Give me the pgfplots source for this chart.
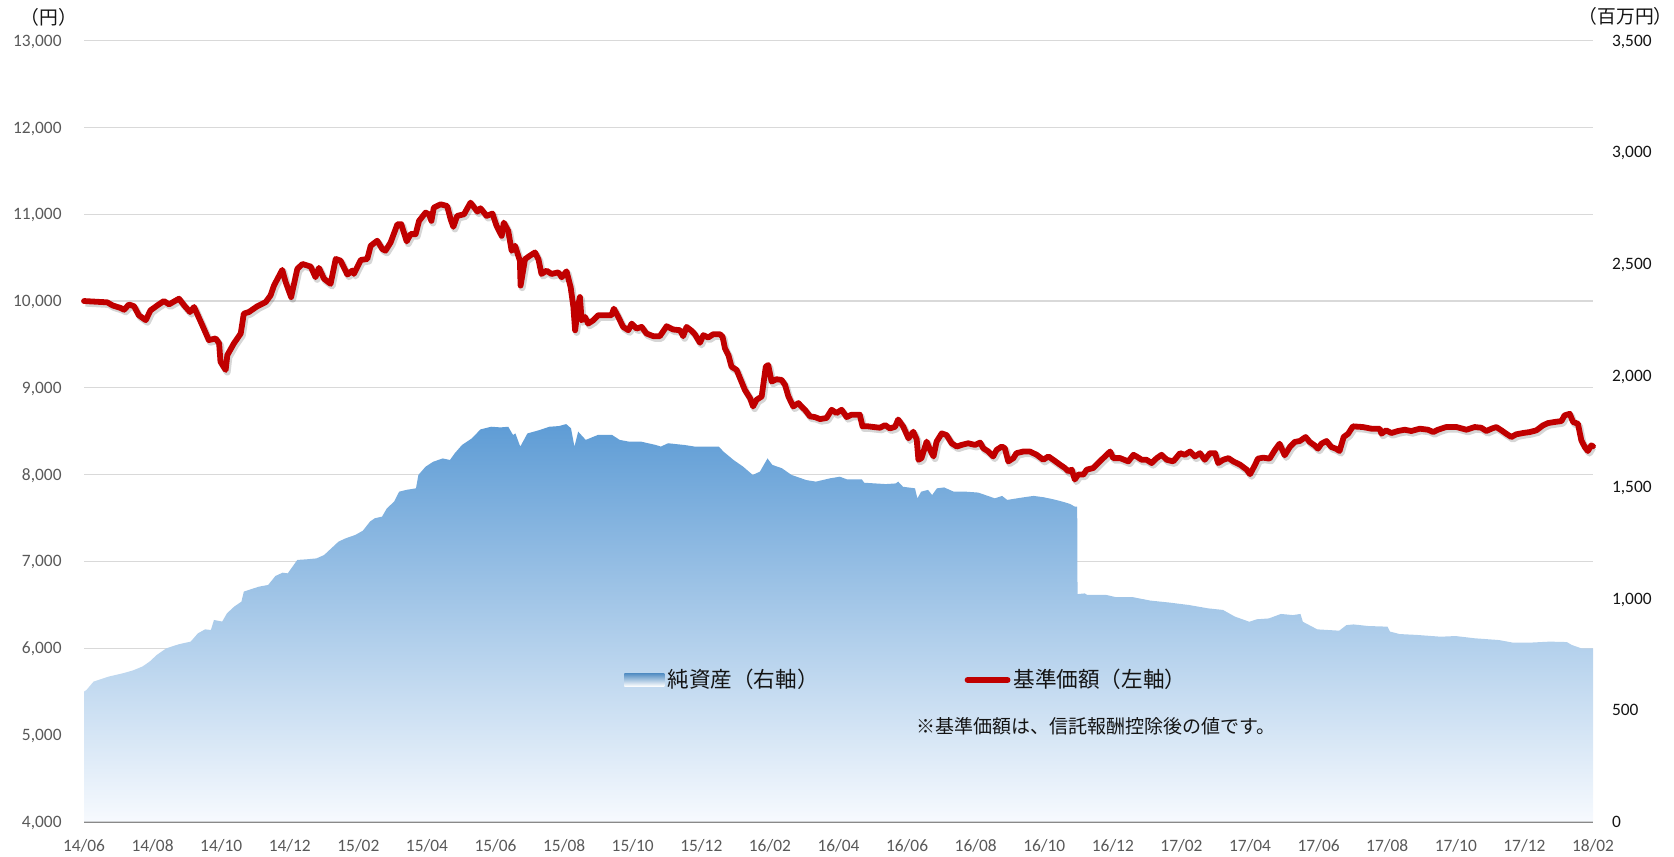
\documentclass[border=0pt]{standalone}
\usepackage{pgfplots}
\pgfplotsset{compat=1.18}
\usepackage{pgfplotstable}
\usepackage{fontspec}
\setmainfont{Carlito}
\newfontfamily\cjk{Noto Sans CJK JP}
\definecolor{redline}{RGB}{192,0,0}
\definecolor{gridgray}{RGB}{217,217,217}
\definecolor{axisgray}{RGB}{137,137,137}
\definecolor{tickgray}{RGB}{89,89,89}
\definecolor{areatop}{RGB}{94,156,213}
\definecolor{areamid}{RGB}{185,211,238}
\definecolor{areabot}{RGB}{247,250,254}
\definecolor{txt}{RGB}{20,20,20}

\pgfplotstableread{
m v
0.00 10000
0.68 9985
0.83 9950
1.07 9920
1.17 9900
1.31 9960
1.46 9940
1.60 9836
1.80 9780
1.94 9893
2.14 9950
2.33 10000
2.48 9962
2.77 10027
2.92 9950
3.09 9874
3.21 9931
3.45 9721
3.64 9550
3.84 9569
3.94 9511
3.98 9301
4.13 9206
4.18 9378
4.37 9511
4.57 9626
4.66 9855
4.81 9874
5.05 9939
5.30 9989
5.44 10065
5.54 10179
5.78 10359
5.88 10218
6.04 10046
6.22 10370
6.37 10427
6.61 10397
6.75 10275
6.85 10382
7.00 10256
7.19 10198
7.34 10485
7.48 10466
7.68 10305
7.82 10351
7.87 10313
8.07 10473
8.26 10485
8.36 10637
8.55 10695
8.70 10599
8.79 10580
8.94 10675
9.14 10886
9.25 10886
9.41 10687
9.52 10771
9.67 10771
9.77 10924
9.96 11019
10.06 11000
10.13 10924
10.20 11076
10.40 11115
10.59 11095
10.69 10943
10.77 10855
10.88 10981
11.08 11000
11.27 11134
11.47 11031
11.56 11069
11.74 10981
11.91 11008
12.03 10866
12.18 10751
12.24 10904
12.37 10808
12.47 10579
12.57 10637
12.71 10464
12.73 10178
12.86 10483
13.00 10522
13.15 10560
13.25 10483
13.34 10312
13.49 10350
13.63 10312
13.83 10331
13.93 10274
14.07 10343
14.19 10159
14.27 9931
14.32 9663
14.41 9950
14.46 10046
14.51 9778
14.61 9816
14.70 9740
14.85 9778
14.99 9836
15.19 9836
15.38 9836
15.45 9912
15.58 9816
15.72 9702
15.87 9664
15.97 9740
16.11 9683
16.26 9702
16.40 9626
16.60 9595
16.79 9595
16.99 9710
17.18 9672
17.38 9664
17.47 9595
17.57 9702
17.72 9656
17.81 9618
17.96 9519
18.06 9607
18.20 9580
18.35 9618
18.54 9618
18.62 9588
18.69 9454
18.79 9377
18.88 9244
19.03 9206
19.13 9110
19.27 8976
19.42 8881
19.51 8785
19.61 8862
19.76 8900
19.88 9244
19.95 9263
20.05 9072
20.19 9099
20.34 9091
20.44 9034
20.54 8900
20.68 8785
20.83 8824
20.92 8785
21.02 8747
21.17 8671
21.31 8663
21.46 8640
21.65 8652
21.80 8747
21.94 8709
22.09 8747
22.24 8663
22.38 8690
22.62 8690
22.70 8556
22.87 8556
23.01 8549
23.21 8540
23.36 8570
23.50 8532
23.65 8551
23.74 8635
23.89 8551
24.04 8418
24.18 8494
24.28 8407
24.33 8171
24.42 8190
24.57 8380
24.67 8285
24.77 8209
24.86 8380
25.01 8475
25.15 8456
25.30 8361
25.45 8323
25.59 8342
25.78 8361
25.98 8342
26.13 8369
26.22 8304
26.37 8266
26.51 8209
26.61 8285
26.76 8323
26.85 8304
26.95 8152
27.10 8190
27.19 8247
27.39 8266
27.58 8266
27.78 8228
27.97 8171
28.12 8209
28.26 8171
28.46 8114
28.60 8076
28.70 8038
28.80 8057
28.89 7943
28.99 8000
29.14 8000
29.24 8057
29.43 8076
29.62 8152
29.82 8228
29.92 8266
30.01 8190
30.21 8190
30.45 8152
30.60 8228
30.69 8209
30.84 8171
30.98 8171
31.13 8133
31.28 8190
31.42 8228
31.57 8171
31.76 8152
31.96 8247
32.10 8228
32.25 8266
32.39 8209
32.54 8247
32.68 8171
32.83 8247
32.98 8247
33.07 8133
33.22 8171
33.37 8190
33.51 8152
33.71 8114
33.90 8057
34.00 8005
34.14 8107
34.23 8184
34.38 8195
34.57 8184
34.72 8280
34.86 8356
35.01 8222
35.16 8318
35.30 8376
35.45 8387
35.62 8433
35.74 8376
35.88 8337
35.98 8299
36.08 8356
36.23 8387
36.37 8318
36.50 8299
36.61 8272
36.73 8433
36.86 8471
37.00 8556
37.29 8548
37.54 8529
37.78 8529
37.83 8471
37.97 8510
38.12 8479
38.31 8502
38.51 8517
38.70 8502
38.95 8529
39.19 8517
39.34 8490
39.48 8517
39.72 8548
40.02 8548
40.31 8517
40.55 8548
40.74 8540
40.89 8502
41.04 8529
41.18 8548
41.33 8510
41.47 8471
41.62 8433
41.76 8464
41.96 8479
42.15 8490
42.35 8510
42.54 8567
42.69 8594
42.88 8606
43.08 8617
43.17 8682
43.32 8701
43.42 8606
43.56 8586
43.66 8395
43.76 8318
43.85 8272
43.95 8337
44.00 8326
}\pricetable

\pgfplotstableread{
m v
0.00 583
0.07 590
0.28 628
0.71 650
1.13 665
1.41 677
1.70 695
1.91 717
2.12 747
2.40 777
2.76 795
3.11 807
3.32 844
3.53 862
3.70 859
3.79 904
4.03 897
4.17 934
4.38 964
4.59 986
4.66 1031
5.09 1053
5.37 1061
5.58 1101
5.79 1116
5.94 1113
6.22 1173
6.50 1176
6.78 1180
7.00 1195
7.21 1225
7.42 1255
7.63 1270
7.91 1285
8.13 1304
8.34 1345
8.48 1360
8.69 1367
8.83 1404
9.04 1434
9.19 1479
9.40 1487
9.68 1494
9.75 1554
9.96 1591
10.18 1613
10.46 1628
10.67 1621
10.81 1651
11.02 1688
11.31 1718
11.56 1758
11.87 1770
12.15 1767
12.37 1770
12.51 1733
12.58 1740
12.72 1681
12.93 1740
13.28 1755
13.57 1770
13.85 1773
14.06 1782
14.20 1763
14.30 1681
14.41 1748
14.63 1711
14.98 1733
15.40 1733
15.62 1711
15.90 1703
16.25 1703
16.68 1688
16.82 1681
17.03 1696
17.52 1688
17.81 1681
18.23 1681
18.51 1681
18.65 1658
18.94 1621
19.22 1591
19.50 1554
19.71 1569
19.93 1628
20.07 1599
20.35 1584
20.63 1554
21.06 1531
21.34 1524
21.76 1539
22.04 1546
22.25 1534
22.68 1534
22.75 1519
23.38 1513
23.67 1516
23.74 1524
23.88 1501
24.23 1494
24.30 1449
24.41 1479
24.61 1487
24.73 1464
24.87 1494
25.08 1498
25.36 1479
25.71 1479
26.07 1475
26.28 1464
26.56 1449
26.77 1460
26.92 1442
27.20 1449
27.41 1454
27.69 1460
27.98 1454
28.26 1445
28.54 1434
28.75 1424
28.89 1412
28.96 1412
28.97 1020
29.18 1023
29.25 1016
29.81 1016
30.10 1006
30.59 1006
31.09 991
31.65 982
32.22 971
32.78 956
33.21 949
33.56 919
33.98 896
34.19 907
34.55 911
34.90 931
35.25 926
35.47 931
35.54 896
35.96 862
36.60 856
36.81 881
37.02 884
37.44 877
38.01 874
38.08 852
38.36 841
38.86 837
39.56 829
39.99 832
40.55 822
41.26 814
41.68 802
42.11 802
42.74 807
43.24 805
43.38 792
43.66 777
44.00 777
}\navtable

\pgfplotsset{
  base/.style={
    scale only axis, width=754.5bp, height=390.5bp,
    at={(42bp,17.65bp)}, anchor=south west,
    xmin=0, xmax=44, clip=false,
    major tick length=0pt,
    scaled y ticks=false,
    /pgf/number format/.cd, 1000 sep={,}, assume math mode=true, /pgfplots/.cd,
  },
  tickfont/.style={font=\fontsize{8.7bp}{10bp}\selectfont},
}

\begin{document}
\begin{tikzpicture}
\useasboundingbox (0,0) rectangle (837bp,428.5bp);

% Axis 1: left scale, grid, x labels
\begin{axis}[base,
  ymin=4000, ymax=13000, ytick={4000,5000,...,13000},
  ymajorgrids, grid style={draw=gridgray, line width=0.6bp},
  axis x line*=bottom, axis y line*=left,
  x axis line style={draw=axisgray, line width=1.6bp, -},
  y axis line style={draw=none},
  xtick={0,2,...,44},
  xticklabels={14/06,14/08,14/10,14/12,15/02,15/04,15/06,15/08,15/10,15/12,16/02,16/04,16/06,16/08,16/10,16/12,17/02,17/04,17/06,17/08,17/10,17/12,18/02},
  xticklabel style={tickfont, text=tickgray, inner sep=0pt, anchor=center, yshift=-12.1bp},
  yticklabel style={tickfont, text=tickgray, inner sep=0pt, anchor=base east, xshift=-11bp, yshift=-2.8bp},
]
\end{axis}

% Axis 2: right scale, net assets area
\begin{axis}[base,
  ymin=0, ymax=3500, ytick={0,500,...,3500},
  axis x line=none, axis y line*=right,
  y axis line style={draw=none},
  yticklabel style={tickfont, text=txt, inner sep=0pt, anchor=base west, xshift=9.3bp, yshift=-2.8bp},
]
\addplot[draw=none, top color=areatop, middle color=areamid, bottom color=areabot] table[x=m,y=v] {\navtable} \closedcycle;
\end{axis}

% Axis 3: left scale, price line + legend
\begin{axis}[base,
  ymin=4000, ymax=13000, hide axis,
  legend columns=2,
  legend style={at={(0.3579,0.1814)}, anchor=west, draw=none, fill=none,
    inner xsep=0pt, inner ysep=0pt,
    nodes={inner sep=0pt, text=txt},
    font=\cjk\fontsize{10.8bp}{12.5bp}\selectfont,
    /tikz/every odd column/.append style={column sep=1.5bp},
    /tikz/every even column/.append style={column sep=73bp}},
]
\addlegendimage{draw=none, legend image code/.code={\path[draw=none, top color=areatop!92!black, bottom color=white] (0bp,-3.2bp) rectangle (20bp,3.2bp);}}
\addlegendentry{純資産（右軸）}
\addplot[forget plot, black, opacity=0.16, line width=3.4bp, line join=round, xshift=0.8bp, yshift=-1.1bp] table[x=m,y=v] {\pricetable};
\addplot[redline, line width=2.9bp, line join=round, line cap=round,
  legend image code/.code={\draw[redline, line width=2.9bp, line cap=round] (0bp,0bp) -- (20bp,0bp);}]
  table[x=m,y=v] {\pricetable};
\addlegendentry{基準価額（左軸）}
\node[anchor=west, font=\cjk\fontsize{9.5bp}{11bp}\selectfont, text=txt, inner sep=0pt] at (rel axis cs:0.5514,0.1225) {※基準価額は、信託報酬控除後の値です。};
\end{axis}

\node[font=\cjk\fontsize{9.4bp}{11bp}\selectfont, text=txt, inner sep=0pt] at (24.5bp,420bp) {（円）};
\node[font=\cjk\fontsize{9.4bp}{11bp}\selectfont, text=txt, inner sep=0pt, anchor=east] at (836.5bp,420.5bp) {（百万円）};
\end{tikzpicture}
\end{document}
